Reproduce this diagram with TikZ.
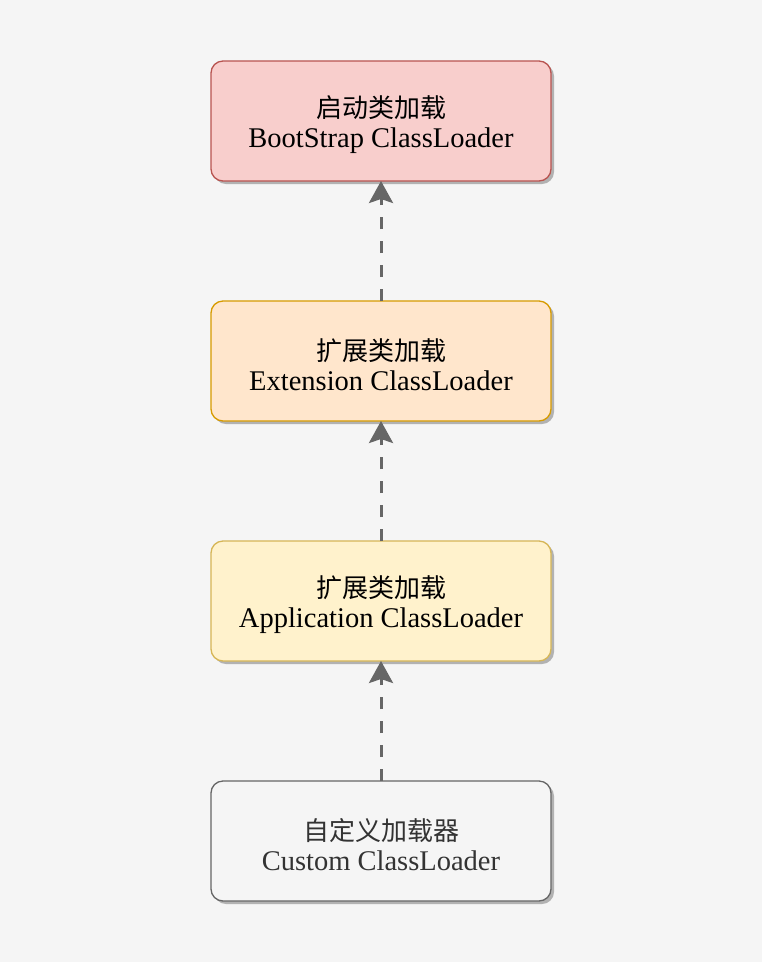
\documentclass[tikz,border=0pt]{standalone}
\usepackage{fontspec}
\setmainfont{Liberation Serif}
\newfontfamily\cjk{Noto Sans CJK SC}
\usetikzlibrary{positioning,arrows.meta,shadows}
\definecolor{BgClr}{HTML}{F5F5F5}
\definecolor{BootFill}{HTML}{F8CECC}
\definecolor{BootLine}{HTML}{B85450}
\definecolor{ExtFill}{HTML}{FFE6CC}
\definecolor{ExtLine}{HTML}{D79B00}
\definecolor{AppFill}{HTML}{FFF2CC}
\definecolor{AppLine}{HTML}{D6B656}
\definecolor{CustFill}{HTML}{F5F5F5}
\definecolor{CustLine}{HTML}{666666}
\definecolor{CustText}{HTML}{333333}
\definecolor{ArrowClr}{HTML}{666666}

\newcommand{\cjkline}[1]{{\cjk\fontsize{26}{30}\selectfont\rule{0pt}{29pt}#1}}

\tikzset{
  loader/.style={rectangle,rounded corners=12pt,line width=1.3pt,
    minimum width=340pt,minimum height=120pt,inner sep=0pt,outer sep=0pt,
    align=center,font=\fontsize{28.5}{30}\selectfont,
    drop shadow={shadow xshift=3pt,shadow yshift=-3pt,fill=black!30,opacity=1}},
  delegate/.style={ArrowClr,line width=3pt,dash pattern=on 12pt off 12pt,
    -{Stealth[length=22pt,width=24pt,inset=4pt]}}
}

\begin{document}
\begin{tikzpicture}[x=1pt,y=-1pt]
\fill[BgClr] (0,0) rectangle (762,962);
\useasboundingbox (0,0) rectangle (762,962);

\node[loader,fill=BootFill,draw=BootLine] (boot) at (381,121)
  {\cjkline{启动类加载}\\BootStrap ClassLoader};
\node[loader,fill=ExtFill,draw=ExtLine,below=120pt of boot] (ext)
  {\cjkline{扩展类加载}\\Extension ClassLoader};
\node[loader,fill=AppFill,draw=AppLine,below=120pt of ext] (app)
  {\cjkline{扩展类加载}\\Application ClassLoader};
\node[loader,fill=CustFill,draw=CustLine,text=CustText,below=120pt of app] (custom)
  {\cjkline{自定义加载器}\\Custom ClassLoader};

% child asks parent
\draw[delegate] (custom.north) -- (app.south);
\draw[delegate] (app.north) -- (ext.south);
\draw[delegate] (ext.north) -- (boot.south);

\end{tikzpicture}
\end{document}
